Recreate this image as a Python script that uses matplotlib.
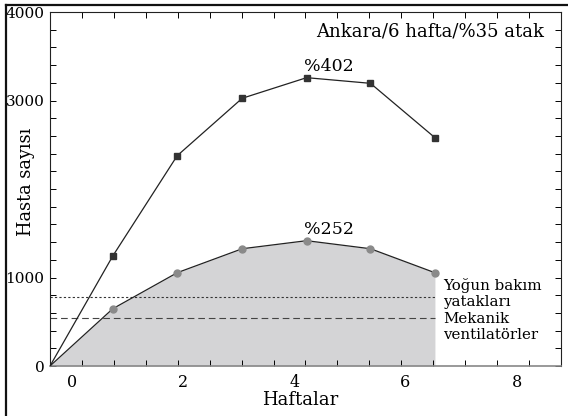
import numpy as np
import matplotlib
matplotlib.use('Agg')
import matplotlib.pyplot as plt
from matplotlib.lines import Line2D

plt.rcParams['font.family'] = ['DejaVu Serif']

# data
weeks = [0.73, 1.89, 3.06, 4.22, 5.37, 6.53]
patients = [1243, 2376, 3025, 3258, 3194, 2580]
icu_patients = [647, 1054, 1325, 1416, 1325, 1054]
icu_beds = 783
ventilators = 542
x_start = -0.4
x_end = 8.8

ytick_labels = {0: '0', 1000: '1000', 3000: '3000', 4000: '4000'}

fig = plt.figure(figsize=(5.68, 4.16), dpi=100)
ax = fig.add_axes([50/568, 1-366/416, 511/568, 354/416])

xs = [x_start] + weeks
ys = [0] + patients
ys2 = [0] + icu_patients

ax.fill_between(xs, ys2, 0, color='#d4d4d6', lw=0, zorder=1)
ax.plot(xs, ys, color='#222222', lw=0.9, zorder=3)
ax.plot(weeks, patients, ls='none', marker='s', ms=5, color='#333333', zorder=4)
ax.plot(xs, ys2, color='#222222', lw=0.9, zorder=3)
ax.plot(weeks, icu_patients, ls='none', marker='o', ms=5, color='#8a8a8a', zorder=4)

ax.plot([x_start, weeks[-1]], [icu_beds, icu_beds], color='#333333', lw=0.8, ls=(0, (2, 2)), zorder=2)
ax.plot([x_start, weeks[-1]], [ventilators, ventilators], color='#444444', lw=0.8, ls=(0, (6, 3.5)), zorder=2)

ax.text(6.68, 820, 'Yoğun bakım\nyatakları', fontsize=10.8, va='center', ha='left', linespacing=1.15)
ax.text(6.68, 442, 'Mekanik\nventilatörler', fontsize=10.8, va='center', ha='left', linespacing=1.15)
ax.text(4.18, 3382, '%402', fontsize=12.5, ha='left', va='center')
ax.text(4.18, 1537, '%252', fontsize=12.5, ha='left', va='center')
ax.text(8.49, 3777, 'Ankara/6 hafta/%35 atak', fontsize=13, ha='right', va='center')

ax.set_xlim(x_start, x_end)
ax.set_ylim(0, 4000)

ax.set_xticks([0, 2, 4, 6, 8])
ax.set_xticks(np.linspace(x_start, x_end, 17), minor=True)
ax.tick_params(axis='x', which='major', length=0, pad=6, labelsize=11.5)
ax.tick_params(axis='x', which='minor', direction='in', length=4, width=0.7, top=True, bottom=True)

yt = np.arange(0, 4001, 200)
ax.set_yticks(yt)
ax.set_yticklabels([ytick_labels.get(int(v), '') for v in yt])
ax.tick_params(axis='y', direction='in', length=4, width=0.7, left=True, right=True, pad=4, labelsize=11)

for s in ax.spines.values():
    s.set_linewidth(0.8)
    s.set_color('#222222')
ax.spines['bottom'].set_color('#888888')
ax.spines['bottom'].set_linewidth(1.2)

ax.set_xlabel('Haftalar', fontsize=13)
ax.set_ylabel('Hasta sayısı', fontsize=12.8)
ax.xaxis.set_label_coords(0.489, -0.072)
ax.yaxis.set_label_coords(-0.03, 0.52)

# outer frame
fig.add_artist(Line2D([6/568, 6/568], [0, 1-5/416], transform=fig.transFigure, color='#111111', lw=1.6))
fig.add_artist(Line2D([6/568, 1], [1-5/416, 1-5/416], transform=fig.transFigure, color='#111111', lw=1.6))

fig.savefig('out.png', dpi=100)
